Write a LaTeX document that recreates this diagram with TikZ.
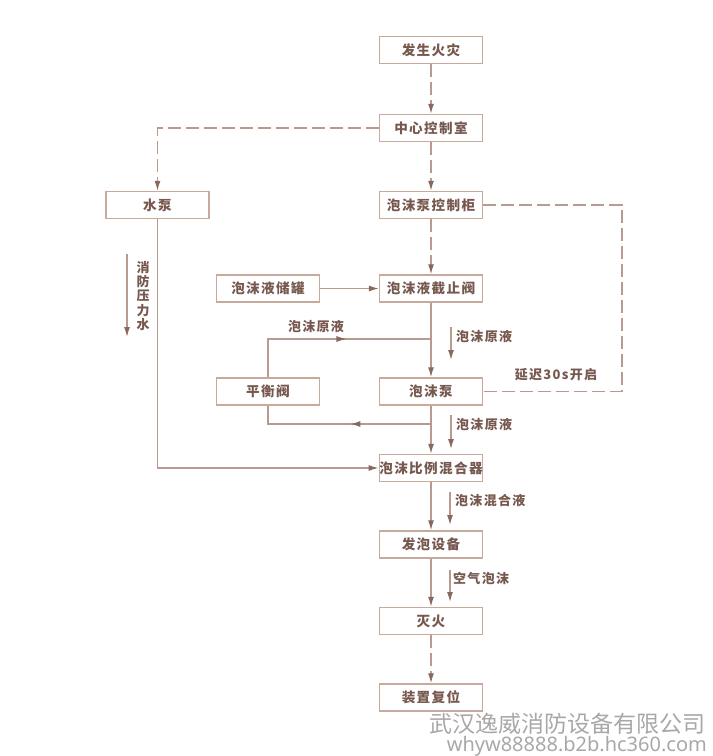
\documentclass[tikz,border=0pt]{standalone}
\usepackage{fontspec}
\usetikzlibrary{arrows.meta,decorations.markings}
\newfontfamily\cjk[LetterSpace=10]{Noto Sans CJK SC}
\newfontfamily\cjkplain{Noto Sans CJK SC}
\newfontfamily\latinwm{Noto Sans}
\definecolor{boxc}{RGB}{200,170,157}
\definecolor{linec}{RGB}{184,154,142}
\definecolor{textc}{RGB}{118,88,78}
\definecolor{arrowc}{RGB}{135,105,95}
\definecolor{wmc}{RGB}{168,168,168}
\begin{document}
\begin{tikzpicture}[x=1pt,y=-1pt,
  box/.style={draw=boxc, line width=1.4pt, minimum width=103pt, minimum height=27pt,
    inner sep=0pt, font=\cjk\bfseries\fontsize{13.6}{13.6}\selectfont, text=textc},
  flow/.style={draw=linec, line width=1.3pt},
  dashflow/.style={flow, dash pattern=on 13pt off 5pt},
  tip/.style={-{Latex[length=10pt,width=6pt,color=arrowc]}},
  lbl/.style={font=\cjk\bfseries\fontsize{13}{14.4}\selectfont, text=textc, inner sep=0pt},
  midarrow/.style={postaction={decorate}, decoration={markings,
    mark=at position #1 with {\arrow{Latex[length=10pt,width=6pt,color=arrowc]}}}},
]
\useasboundingbox (0,0) rectangle (713,756);

% boxes
\node[box] (fire)  at (431,50)    {发生火灾};
\node[box] (ctrl)  at (431,128)   {中心控制室};
\node[box] (fpcab) at (431,205)   {泡沫泵控制柜};
\node[box] (pump)  at (157.5,205) {水泵};
\node[box] (tank)  at (268,288.5) {泡沫液储罐};
\node[box] (valve) at (431,288.5) {泡沫液截止阀};
\node[box] (bal)   at (268,391.5) {平衡阀};
\node[box] (fpump) at (431,391.5) {泡沫泵};
\node[box] (mixer) at (431,468)   {泡沫比例混合器};
\node[box] (foam)  at (431,544.5) {发泡设备};
\node[box] (ext)   at (431,621)   {灭火};
\node[box] (reset) at (431,697.5) {装置复位};

% control (dashed) connectors
\draw[dashflow,tip] (fire) -- (ctrl);
\draw[dashflow,tip] (ctrl.west) -| (pump.north);
\draw[dashflow,tip] (ctrl) -- (fpcab);
\draw[dashflow,tip] (fpcab) -- (valve);
\coordinate (rc) at (622,205);
\draw[dashflow] (fpcab.east) -- (rc) |- (fpump.east);
\draw[dashflow,tip] (ext) -- (reset);

% flow connectors
\draw[flow,tip] (tank) -- (valve);
\draw[flow,tip] (valve) -- (fpump);
\coordinate (j1) at (431,339);
\draw[flow,midarrow=0.58] (bal.north) |- (j1);
\draw[flow,tip] (fpump) -- (mixer);
\coordinate (j2) at (431,424);
\draw[flow,midarrow=0.445] (j2) -| (bal.south);
\draw[flow,tip] (pump.south) |- (mixer.west);
\draw[flow,tip] (mixer) -- (foam);
\draw[flow,tip] (foam) -- (ext);

% side label arrows
\coordinate (a1s) at (127,254); \coordinate (a1e) at (127,337);
\draw[flow,tip] (a1s) -- (a1e);
\node[lbl,align=center] (t1) at (143,296) {消\\防\\压\\力\\水};

\coordinate (a2s) at (451,327); \coordinate (a2e) at (451,360);
\draw[flow,tip] (a2s) -- (a2e);
\node[lbl,anchor=west] (t2) at (456,337) {泡沫原液};

\coordinate (a3s) at (451,415); \coordinate (a3e) at (451,449);
\draw[flow,tip] (a3s) -- (a3e);
\node[lbl,anchor=west] (t3) at (456,425) {泡沫原液};

\coordinate (a4s) at (450,492); \coordinate (a4e) at (450,525);
\draw[flow,tip] (a4s) -- (a4e);
\node[lbl,anchor=west] (t4) at (455,501) {泡沫混合液};

\coordinate (a5s) at (450,570); \coordinate (a5e) at (450,602);
\draw[flow,tip] (a5s) -- (a5e);
\node[lbl,anchor=west] (t5) at (453,578) {空气泡沫};

\node[lbl] (t6) at (316,327) {泡沫原液};
\node[lbl] (t7) at (556,375) {延迟30s开启};

% watermark
\node[anchor=east, text=wmc, inner sep=0pt, font=\cjkplain\fontsize{23}{23}\selectfont] (wm1) at (706,724) {武汉逸威消防设备有限公司};
\node[anchor=east, text=wmc, inner sep=0pt, font=\latinwm\fontsize{20}{20}\selectfont] (wm2) at (707,746) {whyw88888.b2b.hc360.com};
\end{tikzpicture}
\end{document}
